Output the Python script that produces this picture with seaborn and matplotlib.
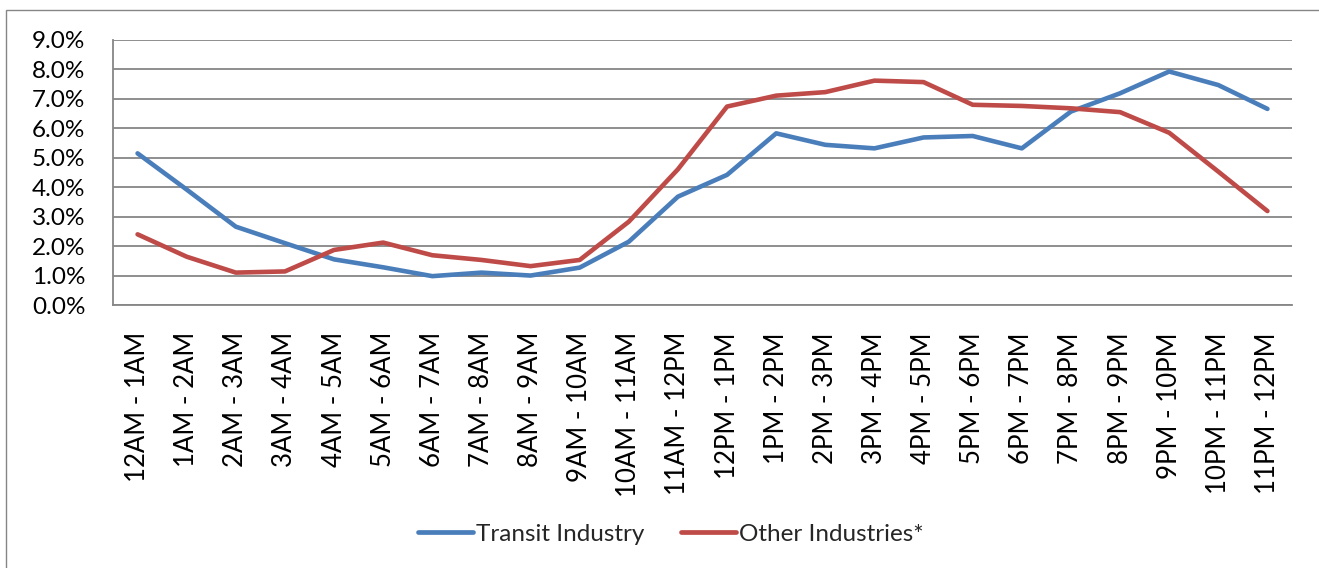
import matplotlib
matplotlib.use("Agg")
import matplotlib.pyplot as plt
import seaborn as sns
import pandas as pd
from matplotlib.ticker import FuncFormatter, FixedLocator
from matplotlib.patches import Rectangle
from matplotlib.lines import Line2D

hours = ["12AM - 1AM", "1AM - 2AM", "2AM - 3AM", "3AM - 4AM", "4AM - 5AM", "5AM - 6AM",
         "6AM - 7AM", "7AM - 8AM", "8AM - 9AM", "9AM - 10AM", "10AM - 11AM", "11AM - 12PM",
         "12PM - 1PM", "1PM - 2PM", "2PM - 3PM", "3PM - 4PM", "4PM - 5PM", "5PM - 6PM",
         "6PM - 7PM", "7PM - 8PM", "8PM - 9PM", "9PM - 10PM", "10PM - 11PM", "11PM - 12PM"]
transit = [5.15, 3.92, 2.66, 2.10, 1.55, 1.28, 0.98, 1.10, 1.00, 1.27, 2.15, 3.68,
           4.42, 5.83, 5.44, 5.32, 5.69, 5.74, 5.32, 6.57, 7.19, 7.93, 7.47, 6.66]
other = [2.40, 1.64, 1.10, 1.14, 1.87, 2.12, 1.69, 1.53, 1.32, 1.53, 2.83, 4.61,
         6.74, 7.11, 7.23, 7.62, 7.57, 6.80, 6.76, 6.68, 6.55, 5.85, 4.53, 3.19]
series_names = ["Transit Industry", "Other Industries*"]
colors = ["#4A7EBB", "#BE4B48"]

df = pd.concat([
    pd.DataFrame({"hour": hours, "pct": transit, "series": series_names[0]}),
    pd.DataFrame({"hour": hours, "pct": other, "series": series_names[1]}),
])

sns.set_theme(style="white")
plt.rcParams["font.family"] = ["Lato", "DejaVu Sans"]

W, H = 1319, 568
fig = plt.figure(figsize=(W / 100, H / 100), dpi=100)
ax = fig.add_axes([113 / W, 1 - 305 / H, (1292 - 113) / W, (305 - 40) / H])

sns.lineplot(data=df, x="hour", y="pct", hue="series", palette=colors,
             linewidth=3.3, ax=ax, sort=False, legend=False)
for ln in ax.lines:
    ln.set_solid_joinstyle("round")
    ln.set_solid_capstyle("round")

grid_c = "#868686"
ax.set_ylim(0, 9)
ax.set_xlim(-0.5, len(hours) - 0.5)
ax.set_yticks(range(0, 10))
ax.yaxis.set_major_formatter(FuncFormatter(lambda v, p: f"{v:.1f}%"))
ax.grid(axis="y", color=grid_c, linewidth=1.3)
ax.set_axisbelow(True)
ax.set_xticks(range(len(hours)))
ax.set_xticklabels(hours, rotation=90, fontsize=18.5, color="black")
ax.xaxis.set_minor_locator(FixedLocator([i - 0.5 for i in range(len(hours) + 1)]))
ax.tick_params(axis="x", which="major", length=0, pad=19.5)
ax.tick_params(axis="x", which="minor", length=5.8, width=1.3, color=grid_c, direction="out")
ax.tick_params(axis="y", length=5.8, width=1.3, color=grid_c, direction="out",
               labelsize=17.5, pad=14, labelcolor="black")
ax.set_xlabel("")
ax.set_ylabel("")
for s in ["top", "right"]:
    ax.spines[s].set_visible(False)
for s in ["left", "bottom"]:
    ax.spines[s].set_color(grid_c)
    ax.spines[s].set_linewidth(1.3)

handles = [Line2D([], [], color=c, linewidth=3.4, solid_capstyle="round") for c in colors]
fig.legend(handles, series_names, loc="center", bbox_to_anchor=(671 / W, 1 - 534 / H),
           ncol=2, frameon=False, fontsize=17.5, handlelength=2.25, handletextpad=0.15,
           columnspacing=1.5)

fig.patches.append(Rectangle((6 / W, -0.1), 1.2, 1.1 - 10 / H, transform=fig.transFigure,
                             fill=False, edgecolor="#868686", linewidth=1.0))

fig.savefig("out.png", dpi=100)
